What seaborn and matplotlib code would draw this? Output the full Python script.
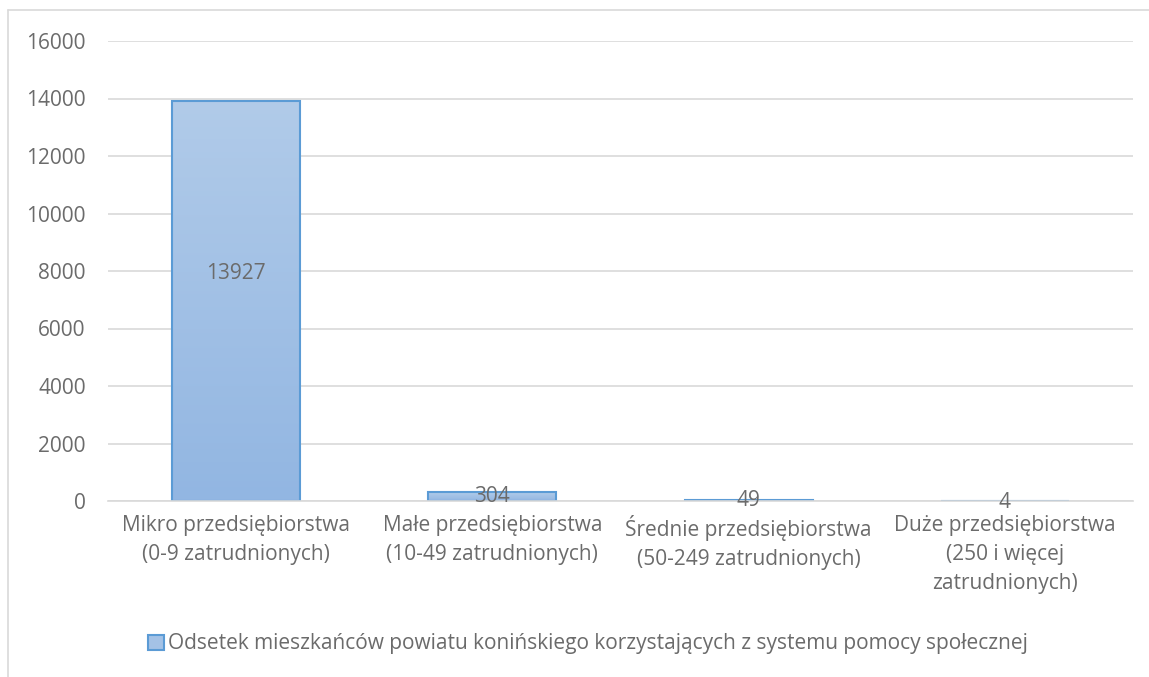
import numpy as np
import pandas as pd
import matplotlib
matplotlib.use('Agg')
import matplotlib.pyplot as plt
import seaborn as sns
from matplotlib.lines import Line2D
from matplotlib.patches import Rectangle

# data
categories = [
    'Mikro przedsiębiorstwa\n(0-9 zatrudnionych)',
    'Małe przedsiębiorstwa\n(10-49 zatrudnionych)',
    'Średnie przedsiębiorstwa\n(50-249 zatrudnionych)',
    'Duże przedsiębiorstwa\n(250 i więcej\nzatrudnionych)',
]
values = [13927, 304, 49, 4]
series_name = 'Odsetek mieszkańców powiatu konińskiego korzystających z systemu pomocy społecznej'
yticks = [0, 2000, 4000, 6000, 8000, 10000, 12000, 14000, 16000]

df = pd.DataFrame({'kategoria': categories, 'wartosc': values})

sns.set_theme(style='white')
plt.rcParams['font.family'] = ['Open Sans', 'DejaVu Sans']

TXT = '#6b6b6b'
GRID = '#d9d9d9'
EDGE = '#5b9bd5'
FS = 15
TOP_C = np.array([0xb1, 0xcb, 0xe9]) / 255
BOT_C = np.array([0x92, 0xb6, 0xe2]) / 255

fig = plt.figure(figsize=(11.49, 6.77), dpi=100)
ax = fig.add_axes([108/1149, 1 - 501/677, (1133-108)/1149, (501-41)/677])

sns.barplot(data=df, x='kategoria', y='wartosc', ax=ax, width=0.5,
            color='#a4c2e6', edgecolor=EDGE, linewidth=1.5, saturation=1)

# gradient fill inside each bar
grad = np.linspace(0, 1, 256)[:, None, None]
grad_img = TOP_C * (1 - grad) + BOT_C * grad
for p in ax.patches:
    x0, y0 = p.get_x(), p.get_y()
    w, h = p.get_width(), p.get_height()
    im = ax.imshow(grad_img, extent=[x0, x0 + w, y0, y0 + h], origin='upper',
                   aspect='auto', zorder=p.get_zorder() - 0.1, interpolation='bilinear')
    im.set_clip_path(p)
    p.set_facecolor('none')

ax.set_xlim(-0.5, len(categories) - 0.5)
ax.set_ylim(0, 16000)
ax.set_yticks(yticks)
ax.set_yticklabels([str(t) for t in yticks])
ax.yaxis.grid(True, color=GRID, linewidth=1.2)
ax.set_axisbelow(True)
for s in ['top', 'right', 'left']:
    ax.spines[s].set_visible(False)
ax.spines['bottom'].set_color(GRID)
ax.spines['bottom'].set_linewidth(1.2)
ax.tick_params(axis='y', length=0, pad=16, labelsize=FS, labelcolor=TXT)
ax.tick_params(axis='x', length=0, pad=10, labelsize=FS, labelcolor=TXT)
for lbl in ax.get_xticklabels():
    lbl.set_linespacing(1.5)
ax.set_xlabel('')
ax.set_ylabel('')

# data labels at bar middle (the big one sits a bit higher in the original)
label_shift_pt = [20, 0, 0, -1]
for i, v in enumerate(values):
    ax.annotate(str(v), (i, v / 2), xytext=(0, label_shift_pt[i]), textcoords='offset points',
                ha='center', va='center', fontsize=FS, color=TXT)

# legend
handle = Rectangle((0, 0), 1, 1, facecolor='#a4c2e6', edgecolor=EDGE, linewidth=1.5)
fig.legend([handle], [series_name], loc='center', bbox_to_anchor=(588/1149, 1 - 644/677),
           frameon=False, fontsize=FS, labelcolor=TXT, handlelength=0.75,
           handleheight=0.75, handletextpad=0.2)

# chart frame (only top/left visible in the crop)
fig.add_artist(Line2D([8/1149, 1], [1 - 10/677, 1 - 10/677], color=GRID, linewidth=1.2))
fig.add_artist(Line2D([8/1149, 8/1149], [0, 1 - 10/677], color=GRID, linewidth=1.2))

fig.savefig('out.png', dpi=100)
